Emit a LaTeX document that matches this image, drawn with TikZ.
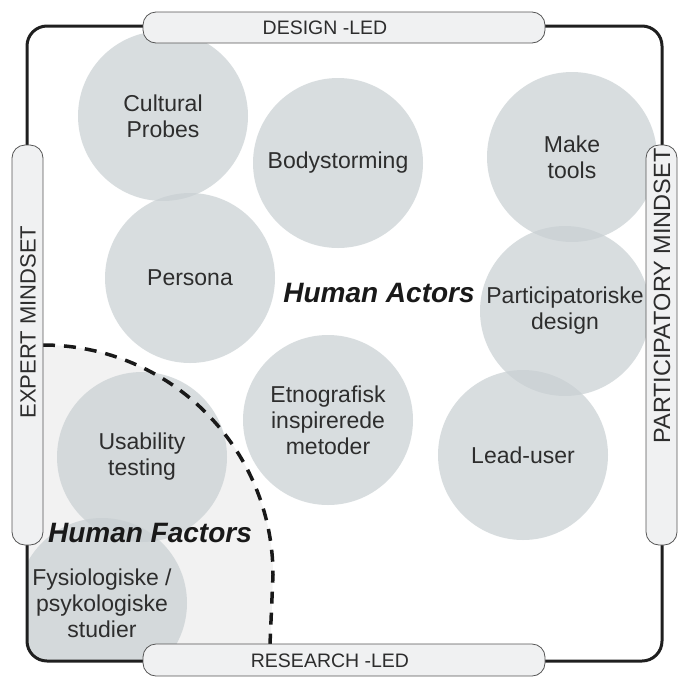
\documentclass[tikz,border=0pt]{standalone}
\usepackage{fontspec}
\setmainfont{Liberation Sans}
\usepackage{xcolor}
\usepackage{tikz}
\usetikzlibrary{shapes.geometric, positioning}
\definecolor{circlegray}{RGB}{200,207,210}
\definecolor{regiongray}{RGB}{242,242,242}
\definecolor{boxfill}{RGB}{240,241,242}
\definecolor{boxline}{RGB}{85,85,85}
\definecolor{textgray}{RGB}{45,45,45}
\tikzstyle{method}   = [circle, minimum size=170pt, inner sep=0pt, fill=circlegray, fill opacity=0.7, text opacity=1, text=textgray, align=center, font=\fontsize{23}{26}\selectfont]
\tikzstyle{axisbox}  = [rectangle, rounded corners=13pt, draw=boxline, fill=boxfill, line width=0.8pt, inner sep=0pt]
\tikzstyle{axistext} = [text=textgray, font=\fontsize{19.5}{22}\selectfont]
\tikzstyle{sidetext} = [text=textgray, rotate=90]
\tikzstyle{bigtitle} = [text=black!90, font=\fontsize{28}{32}\selectfont\bfseries\itshape]
\tikzstyle{frame}    = [line width=3pt, draw=black!88, rounded corners=20pt]
\tikzstyle{border}   = [line width=3.5pt, draw=black!90, dash pattern=on 12pt off 9pt]

\begin{document}
\begin{tikzpicture}[x=1pt, y=-1pt]
    \useasboundingbox (0,0) rectangle (687,683);

    % circles and the human factors corner, kept inside the frame
    \begin{scope}
        \clip[rounded corners=20pt] (27,26) rectangle (662,661);
        \fill[regiongray] (27,345) -- (43,345) .. controls (170,345) and (273,448) .. (273,575) -- (270,661) -- (27,661) -- cycle;

        \node (cp)      [method] at (163,116) {Cultural\\Probes};
        \node (body)    [method] at (338,163) {Bodystorming};
        \node (make)    [method] at (572,157) {Make\\tools};
        \node (persona) [method] at (190,278) {Persona};
        \node (partic)  [method] at (565,311) {Participatoriske\\design};
        \node (etno)    [method] at (328,420) {Etnografisk\\inspirerede\\metoder};
        \node (lead)    [method] at (523,455) {Lead-user};
        \node (usab)    [method] at (142,457) {Usability\\testing};
        \node (fysio)   [method] at (102,603) {Fysiologiske /\\psykologiske\\studier};
    \end{scope}

    \draw [border] (43,345) .. controls (170,345) and (273,448) .. (273,575) -- (270,644);
    \draw [frame] (27,26) rectangle (662,661);

    % the four axis labels
    \node (design)   [axisbox, minimum width=402pt, minimum height=31pt] at (344,27.5) {};
    \node (research) [axisbox, minimum width=402pt, minimum height=32pt] at (344,660) {};
    \node (expert)   [axisbox, minimum width=31pt, minimum height=400pt] at (27.5,345) {};
    \node (particip) [axisbox, minimum width=31pt, minimum height=400pt] at (661.5,345) {};

    \node (designtxt)   [axistext] at (325,28) {DESIGN -LED};
    \node (researchtxt) [axistext] at (330,661) {RESEARCH -LED};
    \node (experttxt)   [sidetext, font=\fontsize{22}{24}\selectfont] at (28,322) {EXPERT MINDSET};
    \node (participtxt) [sidetext, font=\fontsize{23.5}{26}\selectfont] at (662,296) {PARTICIPATORY MINDSET};

    \node (actors)  [bigtitle] at (379,293) {Human Actors};
    \node (factors) [bigtitle] at (150,533) {Human Factors};
\end{tikzpicture}
\end{document}
